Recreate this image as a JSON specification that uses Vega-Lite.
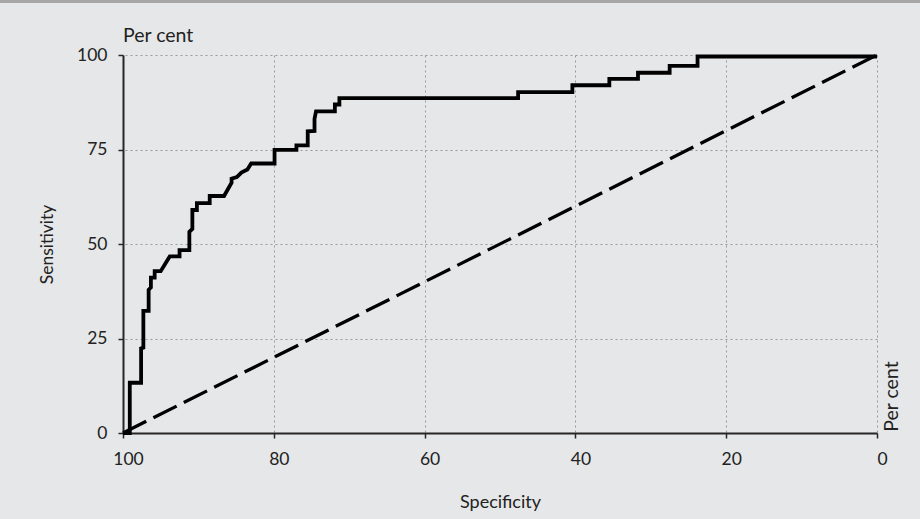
{
  "$schema": "https://vega.github.io/schema/vega-lite/v6.json",
  "width": 754,
  "height": 378,
  "autosize": {"type": "none"},
  "padding": {"left": 123, "top": 55, "right": 43, "bottom": 86},
  "background": "#e6e7e8",
  "config": {
    "view": {"stroke": null},
    "font": "Lato",
    "axis": {"labelFont": "Lato", "titleFont": "Lato", "labelColor": "#222", "titleColor": "#222", "titleFontWeight": "normal"}
  },
  "datasets": {
    "roc": [
      {"i": 1, "spec": 100, "sens": 0},
      {"i": 2, "spec": 99.1, "sens": 0},
      {"i": 3, "spec": 99.1, "sens": 13.3},
      {"i": 4, "spec": 97.6, "sens": 13.3},
      {"i": 5, "spec": 97.6, "sens": 22.4},
      {"i": 6, "spec": 97.3, "sens": 22.6},
      {"i": 7, "spec": 97.3, "sens": 32.3},
      {"i": 8, "spec": 96.6, "sens": 32.3},
      {"i": 9, "spec": 96.6, "sens": 37.9},
      {"i": 10, "spec": 96.3, "sens": 38.5},
      {"i": 11, "spec": 96.3, "sens": 41.1},
      {"i": 12, "spec": 95.8, "sens": 41.1},
      {"i": 13, "spec": 95.8, "sens": 42.8},
      {"i": 14, "spec": 95.0, "sens": 42.8},
      {"i": 15, "spec": 93.8, "sens": 46.7},
      {"i": 16, "spec": 92.5, "sens": 46.7},
      {"i": 17, "spec": 92.5, "sens": 48.4},
      {"i": 18, "spec": 91.2, "sens": 48.4},
      {"i": 19, "spec": 91.2, "sens": 53.2},
      {"i": 20, "spec": 90.8, "sens": 54.0},
      {"i": 21, "spec": 90.8, "sens": 59.0},
      {"i": 22, "spec": 90.2, "sens": 59.0},
      {"i": 23, "spec": 90.2, "sens": 60.8},
      {"i": 24, "spec": 88.5, "sens": 60.8},
      {"i": 25, "spec": 88.5, "sens": 62.7},
      {"i": 26, "spec": 86.6, "sens": 62.7},
      {"i": 27, "spec": 85.6, "sens": 66.2},
      {"i": 28, "spec": 85.6, "sens": 67.3},
      {"i": 29, "spec": 84.9, "sens": 67.7},
      {"i": 30, "spec": 84.3, "sens": 68.9},
      {"i": 31, "spec": 83.5, "sens": 69.7},
      {"i": 32, "spec": 83.0, "sens": 71.3},
      {"i": 33, "spec": 79.9, "sens": 71.3},
      {"i": 34, "spec": 79.9, "sens": 74.9},
      {"i": 35, "spec": 77.0, "sens": 74.9},
      {"i": 36, "spec": 77.0, "sens": 76.1},
      {"i": 37, "spec": 75.5, "sens": 76.1},
      {"i": 38, "spec": 75.5, "sens": 79.8},
      {"i": 39, "spec": 74.6, "sens": 79.9},
      {"i": 40, "spec": 74.6, "sens": 83.1},
      {"i": 41, "spec": 74.4, "sens": 85.1},
      {"i": 42, "spec": 71.9, "sens": 85.1},
      {"i": 43, "spec": 71.9, "sens": 86.9},
      {"i": 44, "spec": 71.3, "sens": 86.9},
      {"i": 45, "spec": 71.3, "sens": 88.6},
      {"i": 46, "spec": 47.6, "sens": 88.6},
      {"i": 47, "spec": 47.6, "sens": 90.2},
      {"i": 48, "spec": 40.4, "sens": 90.2},
      {"i": 49, "spec": 40.4, "sens": 92.0},
      {"i": 50, "spec": 35.5, "sens": 92.0},
      {"i": 51, "spec": 35.5, "sens": 93.7},
      {"i": 52, "spec": 31.7, "sens": 93.7},
      {"i": 53, "spec": 31.7, "sens": 95.3},
      {"i": 54, "spec": 27.5, "sens": 95.3},
      {"i": 55, "spec": 27.5, "sens": 97.1},
      {"i": 56, "spec": 23.8, "sens": 97.1},
      {"i": 57, "spec": 23.8, "sens": 99.6},
      {"i": 58, "spec": 0, "sens": 99.6}
    ],
    "ref": [
      {"i": 1, "spec": 100, "sens": 0},
      {"i": 2, "spec": 0, "sens": 100}
    ]
  },
  "layer": [
    {
      "data": {"values": [{}]},
      "mark": {"type": "rect", "color": "#a6a6a6", "clip": false},
      "encoding": {
        "x": {"datum": 116.4, "type": "quantitative"},
        "x2": {"datum": -5.8},
        "y": {"datum": 114.6, "type": "quantitative"},
        "y2": {"datum": 113.75}
      }
    },
    {
      "data": {"name": "roc"},
      "mark": {"type": "line", "color": "#000", "strokeWidth": 3.8, "strokeJoin": "miter"},
      "encoding": {
        "x": {"field": "spec", "type": "quantitative",
              "scale": {"domain": [0, 100], "reverse": true, "nice": false},
              "axis": {"title": "Specificity", "values": [100, 80, 60, 40, 20, 0], "grid": true,
                       "gridColor": "#999", "gridDash": [2, 3], "gridWidth": 1,
                       "domainColor": "#262626", "domainWidth": 2, "tickColor": "#262626", "tickWidth": 1.5, "tickSize": 5,
                       "labelFlush": false, "labelOffset": 5,
                       "labelFontSize": 17.5, "labelPadding": 12, "titleFontSize": 18, "titlePadding": 26}},
        "y": {"field": "sens", "type": "quantitative",
              "scale": {"domain": [0, 100], "nice": false},
              "axis": {"title": "Sensitivity", "values": [0, 25, 50, 75, 100], "grid": true,
                       "gridColor": "#999", "gridDash": [2, 3], "gridWidth": 1,
                       "domainColor": "#262626", "domainWidth": 2, "tickColor": "#262626", "tickWidth": 1.5, "tickSize": 5,
                       "labelFlush": false,
                       "labelFontSize": 17.5, "labelPadding": 11, "titleFontSize": 17.5, "titlePadding": 20}},
        "order": {"field": "i", "type": "quantitative"}
      }
    },
    {
      "data": {"name": "ref"},
      "mark": {"type": "line", "color": "#000", "strokeWidth": 3.3, "strokeDash": [26, 8]},
      "encoding": {
        "x": {"field": "spec", "type": "quantitative"},
        "y": {"field": "sens", "type": "quantitative"},
        "order": {"field": "i", "type": "quantitative"}
      }
    },
    {
      "data": {"values": [{}]},
      "mark": {"type": "text", "text": "Per cent", "align": "left", "baseline": "alphabetic", "fontSize": 19.5, "font": "Lato", "color": "#222", "dy": -13.3},
      "encoding": {
        "x": {"datum": 100, "type": "quantitative"},
        "y": {"datum": 100, "type": "quantitative"}
      }
    },
    {
      "data": {"values": [{}]},
      "mark": {"type": "text", "text": "Per cent", "angle": 270, "align": "left", "baseline": "alphabetic", "fontSize": 19.5, "font": "Lato", "color": "#222", "dx": 1.3, "dy": 21.3},
      "encoding": {
        "x": {"datum": 0, "type": "quantitative"},
        "y": {"datum": 0, "type": "quantitative"}
      }
    }
  ]
}
